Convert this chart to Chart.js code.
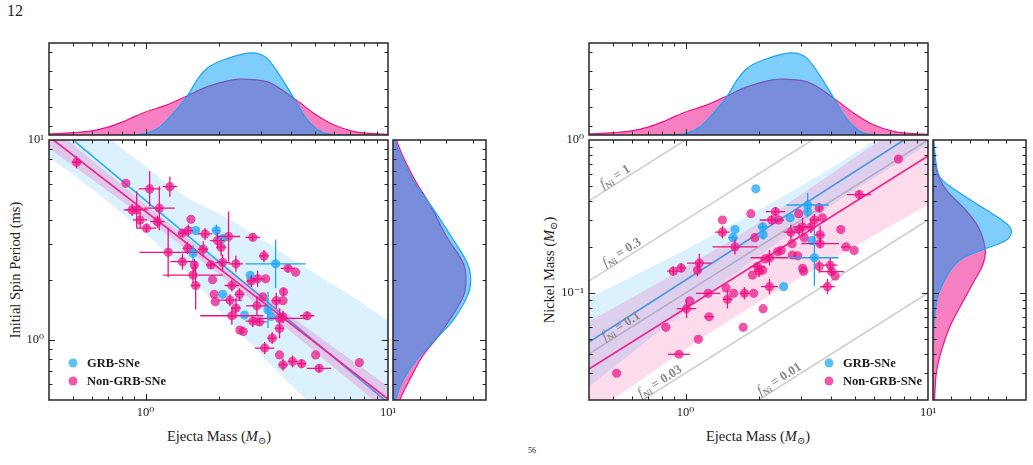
<!DOCTYPE html>
<html>
<head>
<meta charset="utf-8">
<script src="https://cdn.jsdelivr.net/npm/chart.js@4.4.0/dist/chart.umd.min.js"></script>
<style>
body { margin:0; background:#fff; width:1033px; height:465px; position:relative; overflow:hidden;
       font-family:"Liberation Serif","DejaVu Serif",serif; color:#222; }
canvas { position:absolute; left:0; top:0; }
.t { position:absolute; white-space:nowrap; font-size:14.5px; }
.c { transform:translate(-50%,-50%); }
.r { transform:translate(-50%,-50%) rotate(-90deg); }
sub { font-size:10px; vertical-align:-3px; }
</style>
</head>
<body>
<div class="t" style="left:7px;top:2px;font-size:16px">12</div>
<div class="t r" style="left:15px;top:270px">Initial Spin Period (ms)</div>
<div class="t c" style="left:219px;top:437px">Ejecta Mass (<i>M</i><sub>⊙</sub>)</div>
<div class="t r" style="left:550px;top:270px">Nickel Mass (<i>M</i><sub>⊙</sub>)</div>
<div class="t c" style="left:758px;top:437px">Ejecta Mass (<i>M</i><sub>⊙</sub>)</div>
<div class="t" style="left:528px;top:446px;font-size:8px">56</div>

<canvas id="spinTop" width="1033" height="465"></canvas>
<canvas id="spinMain" width="1033" height="465"></canvas>
<canvas id="spinSide" width="1033" height="465"></canvas>
<canvas id="niTop" width="1033" height="465"></canvas>
<canvas id="niMain" width="1033" height="465"></canvas>
<canvas id="niSide" width="1033" height="465"></canvas>

<script>
// ranges and ticks
var massRange = [0.4, 10];
var spinRange = [0.5, 10];
var niRange = [0.02, 1];
var massTicks = [0.4,0.5,0.6,0.7,0.8,0.9,1,2,3,4,5,6,7,8,9,10];
var spinTicks = [0.5,0.6,0.7,0.8,0.9,1,2,3,4,5,6,7,8,9,10];
var niTicks = [0.02,0.03,0.04,0.05,0.06,0.07,0.08,0.09,0.1,0.2,0.3,0.4,0.5,0.6,0.7,0.8,0.9,1];
var majorTicks = [0.1, 1, 10];
var tickText = {'0.1': '10⁻¹', '1': '10⁰', '10': '10¹'};

// points: [ejecta mass, value, x error (dex), y error (dex)]
var spinGrb = [
  [1.61,3.52,0,0],[1.96,3.52,0.015,0.03],[2.08,3.21,0,0],[1.57,2.71,0,0.04],
  [3.44,2.40,0.124,0.122],[2.70,2.10,0,0],[2.08,1.69,0,0],[3.20,1.41,0,0.09],
  [2.56,1.33,0,0],[3.30,1.31,0,0]
];
var spinNon = [
  [0.52,7.74,0.02,0.03],[0.83,6.07,0,0],[1.04,5.69,0.045,0.088],[1.26,5.84,0.03,0.05],
  [0.88,4.47,0.035,0.03],[0.92,4.47,0.045,0.093],[1.14,4.56,0.064,0.11],[0.95,3.98,0.03,0.04],
  [1.12,3.90,0.03,0.03],[1.01,3.62,0.04,0.02],[1.54,4.01,0,0],[1.42,3.42,0.02,0.02],
  [1.50,3.52,0.02,0.03],[1.76,3.39,0.03,0.03],[2.20,3.29,0.048,0.125],[1.98,3.14,0.03,0.04],
  [2.05,2.91,0.02,0.045],[2.77,3.26,0.03,0.02],[1.49,2.87,0.02,0.03],[1.73,2.84,0.02,0.04],
  [1.24,2.74,0.118,0.125],[1.42,2.46,0.05,0.04],[1.59,2.37,0,0.03],[1.86,2.37,0.02,0.02],
  [2.08,2.44,0.03,0.04],[2.36,2.40,0.03,0.04],[3.08,2.63,0.02,0.03],[3.87,2.28,0.03,0.02],
  [4.16,2.18,0,0],[1.57,2.11,0.123,0.04],[1.89,2.00,0,0],[2.73,1.97,0.02,0.03],
  [2.90,2.02,0.03,0.04],[3.13,2.02,0,0],[1.61,1.87,0.02,0.12],[2.27,1.87,0.03,0.03],
  [1.92,1.69,0,0],[1.94,1.55,0,0],[2.44,1.69,0.02,0.03],[2.23,1.58,0.05,0.03],
  [2.36,1.44,0.02,0.05],[3.05,1.64,0,0],[3.71,1.74,0,0.02],[3.46,1.57,0.02,0.04],
  [3.69,1.57,0,0],[2.88,1.48,0.045,0.05],[2.27,1.32,0.13,0.045],[2.77,1.24,0.03,0.03],
  [2.95,1.23,0.03,0.02],[3.57,1.28,0.105,0.05],[3.69,1.30,0,0.03],[3.57,1.14,0.02,0.05],
  [4.64,1.32,0.03,0.02],[2.45,1.12,0,0],[2.53,1.10,0,0],[3.33,1.02,0.02,0.03],
  [3.10,0.91,0.04,0.03],[3.57,0.84,0,0],[5.03,0.84,0,0],[3.69,0.75,0.02,0.03],
  [4.04,0.78,0.02,0.03],[4.40,0.76,0.02,0.02],[5.20,0.72,0.05,0.02],[7.62,0.77,0,0]
];
var niGrb = [
  [1.95,0.48,0,0],[3.19,0.376,0.087,0.08],[3.19,0.34,0,0],[2.70,0.31,0,0],
  [1.60,0.26,0,0],[2.08,0.27,0.02,0.03],[1.57,0.23,0.02,0.02],[2.09,0.24,0,0.03],
  [3.32,0.22,0,0],[3.40,0.17,0.10,0.185],[2.54,0.11,0,0]
];
var niNon = [
  [7.55,0.75,0,0],[5.2,0.44,0.05,0.03],[1.86,0.33,0,0],[2.35,0.34,0.04,0.03],
  [2.93,0.33,0,0],[3.56,0.36,0,0.03],[1.42,0.30,0,0],[2.27,0.30,0.05,0.03],
  [2.42,0.30,0,0],[3.40,0.30,0.02,0.04],[3.67,0.31,0,0],[1.42,0.25,0.03,0.04],
  [3.04,0.27,0.04,0.06],[3.29,0.27,0,0.04],[4.37,0.26,0,0],[1.93,0.23,0,0],
  [2.72,0.25,0.03,0.05],[2.94,0.26,0.02,0.04],[3.59,0.24,0.02,0.06],[3.09,0.23,0,0],
  [3.59,0.21,0.078,0.03],[1.60,0.20,0.093,0.05],[2.75,0.21,0,0],[4.59,0.20,0.02,0],
  [4.96,0.19,0,0],[2.48,0.19,0,0],[2.40,0.186,0,0],[2.22,0.17,0.078,0.05],
  [2.13,0.167,0,0],[2.76,0.177,0,0],[2.90,0.175,0,0],[3.95,0.152,0.03,0.05],
  [3.56,0.149,0,0.04],[3.04,0.145,0,0],[1.98,0.149,0.03,0.03],[0.89,0.139,0.025,0.03],
  [0.96,0.146,0.02,0.03],[1.12,0.141,0,0.04],[1.89,0.131,0,0],[2.01,0.139,0.02,0.04],
  [2.08,0.141,0,0],[3.07,0.139,0,0],[3.85,0.11,0.03,0.05],[4.01,0.138,0.05,0.03],
  [4.14,0.129,0,0],[2.22,0.11,0.035,0.05],[1.24,0.0995,0.05,0],[1.47,0.108,0,0],
  [1.49,0.091,0.02,0.06],[1.58,0.0995,0,0],[1.75,0.0995,0.02,0.04],[1.91,0.0995,0,0],
  [1.04,0.089,0,0],[1.01,0.079,0.04,0.06],[2.09,0.079,0,0],[1.25,0.070,0.02,0],
  [0.83,0.0597,0,0],[1.73,0.0597,0,0],[1.13,0.0498,0,0],[0.94,0.0398,0.045,0],
  [0.52,0.0299,0,0],[1.14,0.157,0.05,0.06]
];

// fits and confidence bands
var spinFitGrb = [[0.4,12.6],[10,0.485]];
var spinFitNon = [[0.4,10.4],[10,0.505]];
var spinBandGrbX = [0.4,0.6,0.8,1,1.5,2,3,5,7,10];
var spinBandGrbLo = [8.2,5.7,4.3,3.4,2.14,1.43,0.84,0.45,0.29,0.19];
var spinBandGrbHi = [19.5,12.4,9.1,7.4,5.1,4.3,3.2,2.14,1.67,1.25];
var spinBandNonX = [0.4,0.7,1,2,3,5,10];
var spinBandNonLo = [9.06,5.55,4.06,2.14,1.45,0.873,0.435];
var spinBandNonHi = [11.9,6.82,4.76,2.45,1.70,1.074,0.586];

var niFitGrb = [[0.4,0.0478],[10,1.26]];
var niFitNon = [[0.4,0.0319],[10,0.787]];
var niBandX = [0.4,0.6,1,1.5,2,3,5,10];
var niBandGrbLo = [0.0245,0.0406,0.0766,0.124,0.174,0.275,0.473,0.935];
var niBandGrbHi = [0.0931,0.128,0.192,0.271,0.347,0.5,0.822,1.70];
var niBandNonLo = [0.0156,0.0245,0.0427,0.0653,0.0871,0.127,0.202,0.377];
var niBandNonHi = [0.0652,0.0931,0.148,0.216,0.288,0.442,0.769,1.64];

// constant nickel fraction lines
var fNi = [1, 0.3, 0.1, 0.03, 0.01];
var fNiText = ['1', '0.3', '0.1', '0.03', '0.01'];
var fNiLabelAt = [0.53, 0.565, 0.56, 0.81, 2.52];

// ejecta mass KDEs (top panels)
var kdeMassGrbX = [0.8,0.89,1.01,1.15,1.30,1.48,1.63,1.79,2.17,2.75,3.18,3.61,4.10,4.66,5.29,6.0,7.0];
var kdeMassGrbY = [0,0.004,0.018,0.09,0.235,0.415,0.596,0.722,0.83,0.892,0.83,0.632,0.397,0.162,0.036,0.005,0];
var kdeMassNonX = [0.4,0.5,0.6,0.7,0.8,0.9,1.0,1.22,1.46,1.79,2.46,3.18,4.10,4.96,6.0,7.27,10];
var kdeMassNonY = [0.012,0.025,0.045,0.085,0.14,0.2,0.25,0.325,0.415,0.523,0.607,0.578,0.397,0.235,0.108,0.036,0.007];

// spin period KDEs (side panel, density then period)
var kdeSpinGrbP = [14,10,6.3,4.47,3.16,2.42,2.0,1.65,1.26,1.02,0.79,0.63,0.52,0.4];
var kdeSpinGrbD = [0,0.07,0.75,1.53,2.26,2.78,2.91,2.78,2.26,1.64,0.87,0.38,0.13,0];
var kdeSpinNonP = [14,10,6.55,4.73,3.29,2.42,2.0,1.65,1.26,1.02,0.83,0.66,0.52,0.4];
var kdeSpinNonD = [0,0.13,0.75,1.39,2.0,2.63,2.73,2.63,2.12,1.64,1.11,0.70,0.31,0];

// nickel mass KDEs (side panel)
var kdeNiGrbM = [1.2,0.86,0.575,0.45,0.349,0.285,0.252,0.222,0.196,0.169,0.149,0.122,0.095,0.07,0.057,0.045];
var kdeNiGrbD = [0,0.09,0.37,1.47,2.92,4.0,4.28,4.0,2.92,1.62,1.10,0.64,0.27,0.09,0.035,0];
var kdeNiNonM = [1.2,1.0,0.64,0.47,0.366,0.271,0.196,0.156,0.116,0.081,0.060,0.042,0.030,0.021,0.015];
var kdeNiNonD = [0,0.035,0.18,0.73,1.62,2.46,2.84,2.74,2.18,1.47,0.91,0.46,0.18,0.09,0];

var serif = '"Liberation Serif", "DejaVu Serif", serif';
Chart.defaults.font.family = serif;
Chart.defaults.color = '#222';
Chart.defaults.animation = false;
Chart.defaults.events = [];
Chart.defaults.plugins.legend.display = false;
Chart.defaults.plugins.tooltip.enabled = false;

var blueFill = 'rgba(0,155,247,0.5)', pinkFill = 'rgba(235,0,130,0.5)';
var blueEdge = '#1ba6f3', pinkEdge = '#eb1585';
var blueDot = 'rgba(40,170,245,0.8)', pinkDot = 'rgba(235,20,135,0.72)';

// draws error bars, line labels, legend and the tick frame
var decor = {
  id: 'decor',
  afterDatasetsDraw: function(chart) {
    var o = chart.options.plugins.decor || {};
    var ctx = chart.ctx, a = chart.chartArea, xs = chart.scales.x, ys = chart.scales.y;
    ctx.save();
    ctx.beginPath();
    ctx.rect(a.left, a.top, a.right - a.left, a.bottom - a.top);
    ctx.clip();
    chart.data.datasets.forEach(function(ds) {
      if (!ds.errs) return;
      ctx.strokeStyle = ds.errColor;
      ctx.lineWidth = 1.3;
      ds.data.forEach(function(p, i) {
        var ex = ds.errs[i][0], ey = ds.errs[i][1];
        var px = xs.getPixelForValue(p.x), py = ys.getPixelForValue(p.y);
        ctx.beginPath();
        if (ex) { ctx.moveTo(xs.getPixelForValue(p.x / Math.pow(10, ex)), py); ctx.lineTo(xs.getPixelForValue(p.x * Math.pow(10, ex)), py); }
        if (ey) { ctx.moveTo(px, ys.getPixelForValue(p.y / Math.pow(10, ey))); ctx.lineTo(px, ys.getPixelForValue(p.y * Math.pow(10, ey))); }
        ctx.stroke();
      });
    });
    (o.lineLabels || []).forEach(function(l) {
      var x0 = xs.getPixelForValue(l.at), y0 = ys.getPixelForValue(l.at * l.f);
      var x1 = xs.getPixelForValue(l.at * 2), y1 = ys.getPixelForValue(l.at * 2 * l.f);
      var parts = [['italic 14px ' + serif, 'f', 0], ['bold 9px ' + serif, 'Ni', 3], ['bold 13px ' + serif, ' = ' + l.text, 0]];
      var w = 0;
      parts.forEach(function(pt) { ctx.font = pt[0]; w += ctx.measureText(pt[1]).width; });
      ctx.save();
      ctx.translate(x0, y0);
      ctx.rotate(Math.atan2(y1 - y0, x1 - x0));
      ctx.fillStyle = '#8a8a8a';
      ctx.textBaseline = 'alphabetic';
      var cx = -w / 2;
      parts.forEach(function(pt) { ctx.font = pt[0]; ctx.fillText(pt[1], cx, -3 + pt[2]); cx += ctx.measureText(pt[1]).width; });
      ctx.restore();
    });
    ctx.restore();

    if (o.legend) {
      var L = o.legend;
      var lx = L.left ? a.left + L.dx : a.right - L.dx;
      L.items.forEach(function(it, k) {
        var ly = a.bottom - L.dy + k * 18;
        ctx.fillStyle = it.color;
        ctx.beginPath(); ctx.arc(lx, ly, 4.5, 0, 2 * Math.PI); ctx.fill();
        ctx.fillStyle = '#1a1a1a';
        ctx.font = 'bold 12.5px ' + serif;
        ctx.textBaseline = 'middle';
        ctx.fillText(it.label, lx + 14, ly + 1);
      });
    }

    ctx.save();
    ctx.strokeStyle = '#222';
    ctx.lineWidth = 1;
    xs.ticks.forEach(function(t) {
      var p = Math.round(xs.getPixelForValue(t.value)) + 0.5, len = t.major ? 6 : 3.5;
      if (p < a.left + 1 || p > a.right - 1) return;
      ctx.beginPath();
      ctx.moveTo(p, a.bottom); ctx.lineTo(p, a.bottom - len);
      ctx.moveTo(p, a.top); ctx.lineTo(p, a.top + len);
      ctx.stroke();
    });
    ys.ticks.forEach(function(t) {
      var p = Math.round(ys.getPixelForValue(t.value)) + 0.5, len = t.major ? 6 : 3.5;
      if (p < a.top + 1 || p > a.bottom - 1) return;
      ctx.beginPath();
      ctx.moveTo(a.left, p); ctx.lineTo(a.left + len, p);
      ctx.moveTo(a.right, p); ctx.lineTo(a.right - len, p);
      ctx.stroke();
    });
    ctx.lineWidth = 1.5;
    ctx.strokeStyle = '#262626';
    ctx.strokeRect(a.left, a.top, a.right - a.left, a.bottom - a.top);
    ctx.restore();
  }
};

function logAxis(range, ticks, show, fitKey, fitSize) {
  return {
    type: 'logarithmic', min: range[0], max: range[1], bounds: 'data', display: show,
    grid: { display: false, drawTicks: false }, border: { display: false },
    ticks: { autoSkip: false, maxRotation: 0, padding: 5, font: { size: 12.5 },
             callback: function(v) { return tickText[String(v)] || ''; } },
    afterBuildTicks: function(ax) { ax.ticks = ticks.map(function(v) { return { value: v, major: majorTicks.indexOf(v) >= 0 }; }); },
    afterFit: function(ax) { if (fitKey) ax[fitKey] = fitSize; }
  };
}
function linAxis(max, ticks) {
  return {
    type: 'linear', min: 0, max: max, display: false,
    afterBuildTicks: function(ax) { ax.ticks = ticks.map(function(v) { return { value: v, major: false }; }); }
  };
}
function xy(xsArr, ysArr) { return xsArr.map(function(v, i) { return { x: v, y: ysArr[i] }; }); }
function pairs(arr) { return arr.map(function(p) { return { x: p[0], y: p[1] }; }); }

function points(arr, color, errColor, order) {
  return { data: pairs(arr), errs: arr.map(function(p) { return [p[2], p[3]]; }), errColor: errColor,
           showLine: false, pointRadius: 4.6, pointBorderWidth: 0, pointBackgroundColor: color, order: order };
}
function fitLine(arr, color, order) {
  return { data: pairs(arr), borderColor: color, borderWidth: 1.7, pointRadius: 0, fill: false, order: order };
}
function band(xsArr, lo, hi, color, order) {
  return [
    { data: xy(xsArr, hi), borderColor: 'transparent', borderWidth: 0, pointRadius: 0, fill: '+1',
      backgroundColor: color, cubicInterpolationMode: 'monotone', order: order },
    { data: xy(xsArr, lo), borderColor: 'transparent', borderWidth: 0, pointRadius: 0, fill: false,
      cubicInterpolationMode: 'monotone', order: order }
  ];
}
function pad(area, yW, xH) {
  return { left: area[0] - yW, top: area[1], right: 1033 - area[2], bottom: 465 - area[3] - xH };
}
function make(id, area, yW, xH, xAxis, yAxis, datasets, decorOpts) {
  return new Chart(document.getElementById(id), {
    type: 'line',
    data: { datasets: datasets },
    options: {
      responsive: false, devicePixelRatio: 1,
      layout: { padding: pad(area, yW, xH) },
      scales: { x: xAxis, y: yAxis },
      plugins: { decor: decorOpts || {} }
    },
    plugins: [decor]
  });
}

function topKde() {
  return [
    { data: xy(kdeMassGrbX, kdeMassGrbY), borderColor: blueEdge, borderWidth: 1.2, backgroundColor: blueFill,
      fill: 'origin', pointRadius: 0, cubicInterpolationMode: 'monotone', order: 1 },
    { data: xy(kdeMassNonX, kdeMassNonY), borderColor: pinkEdge, borderWidth: 1.2, backgroundColor: pinkFill,
      fill: 'origin', pointRadius: 0, cubicInterpolationMode: 'monotone', order: 2 }
  ];
}
function sideKde(gD, gV, nD, nV) {
  return [
    { data: xy(gD, gV), borderColor: blueEdge, borderWidth: 1.2, backgroundColor: blueFill,
      fill: 'shape', pointRadius: 0, tension: 0.35, order: 1 },
    { data: xy(nD, nV), borderColor: pinkEdge, borderWidth: 1.2, backgroundColor: pinkFill,
      fill: 'shape', pointRadius: 0, tension: 0.35, order: 2 }
  ];
}
var kdeTicks = [0.1,0.2,0.3,0.4,0.5,0.6,0.7,0.8,0.9];
var legendItems = [{ label: 'GRB-SNe', color: '#5cc0f5' }, { label: 'Non-GRB-SNe', color: '#ef5aa8' }];

// left figure: spin period
make('spinTop', [49, 43, 388, 135], 0, 0,
  logAxis(massRange, massTicks, false), linAxis(1, kdeTicks), topKde());

make('spinMain', [49, 140, 388, 400], 40, 25,
  logAxis(massRange, massTicks, true, 'height', 25),
  logAxis(spinRange, spinTicks, true, 'width', 40),
  [].concat(
    band(spinBandGrbX, spinBandGrbLo, spinBandGrbHi, 'rgba(0,155,247,0.14)', 9),
    [fitLine(spinFitGrb, '#36aff0', 8)],
    band(spinBandNonX, spinBandNonLo, spinBandNonHi, 'rgba(235,0,130,0.17)', 7),
    [fitLine(spinFitNon, '#f0268c', 6),
     points(spinNon, pinkDot, '#ee1282', 5),
     points(spinGrb, blueDot, '#1ea6f0', 4)]
  ),
  { legend: { left: true, dx: 24, dy: 37, items: legendItems } });

make('spinSide', [393, 140, 486, 400], 0, 0,
  linAxis(3.48, [1, 2, 3]), logAxis(spinRange, spinTicks, false),
  sideKde(kdeSpinGrbD, kdeSpinGrbP, kdeSpinNonD, kdeSpinNonP));

// right figure: nickel mass
make('niTop', [589, 43, 928, 135], 0, 0,
  logAxis(massRange, massTicks, false), linAxis(1, kdeTicks), topKde());

var fLines = fNi.map(function(f) {
  return { data: [{ x: massRange[0], y: massRange[0] * f }, { x: massRange[1], y: massRange[1] * f }],
           borderColor: 'rgba(165,165,165,0.55)', borderWidth: 1.6, pointRadius: 0, fill: false, order: 10 };
});
make('niMain', [589, 140, 928, 400], 40, 25,
  logAxis(massRange, massTicks, true, 'height', 25),
  logAxis(niRange, niTicks, true, 'width', 40),
  [].concat(
    fLines,
    band(niBandX, niBandGrbLo, niBandGrbHi, 'rgba(0,155,247,0.14)', 9),
    [fitLine(niFitGrb, '#36aff0', 8)],
    band(niBandX, niBandNonLo, niBandNonHi, 'rgba(235,0,130,0.14)', 7),
    [fitLine(niFitNon, '#f0268c', 6),
     points(niNon, pinkDot, '#ee1282', 5),
     points(niGrb, blueDot, '#1ea6f0', 4)]
  ),
  { legend: { left: false, dx: 99, dy: 37, items: legendItems },
    lineLabels: fNi.map(function(f, i) { return { f: f, text: fNiText[i], at: fNiLabelAt[i] }; }) });

make('niSide', [933, 140, 1026, 400], 0, 0,
  linAxis(5.07, [1, 2, 3, 4, 5]), logAxis(niRange, niTicks, false),
  sideKde(kdeNiGrbD, kdeNiGrbM, kdeNiNonD, kdeNiNonM));
</script>
</body>
</html>
